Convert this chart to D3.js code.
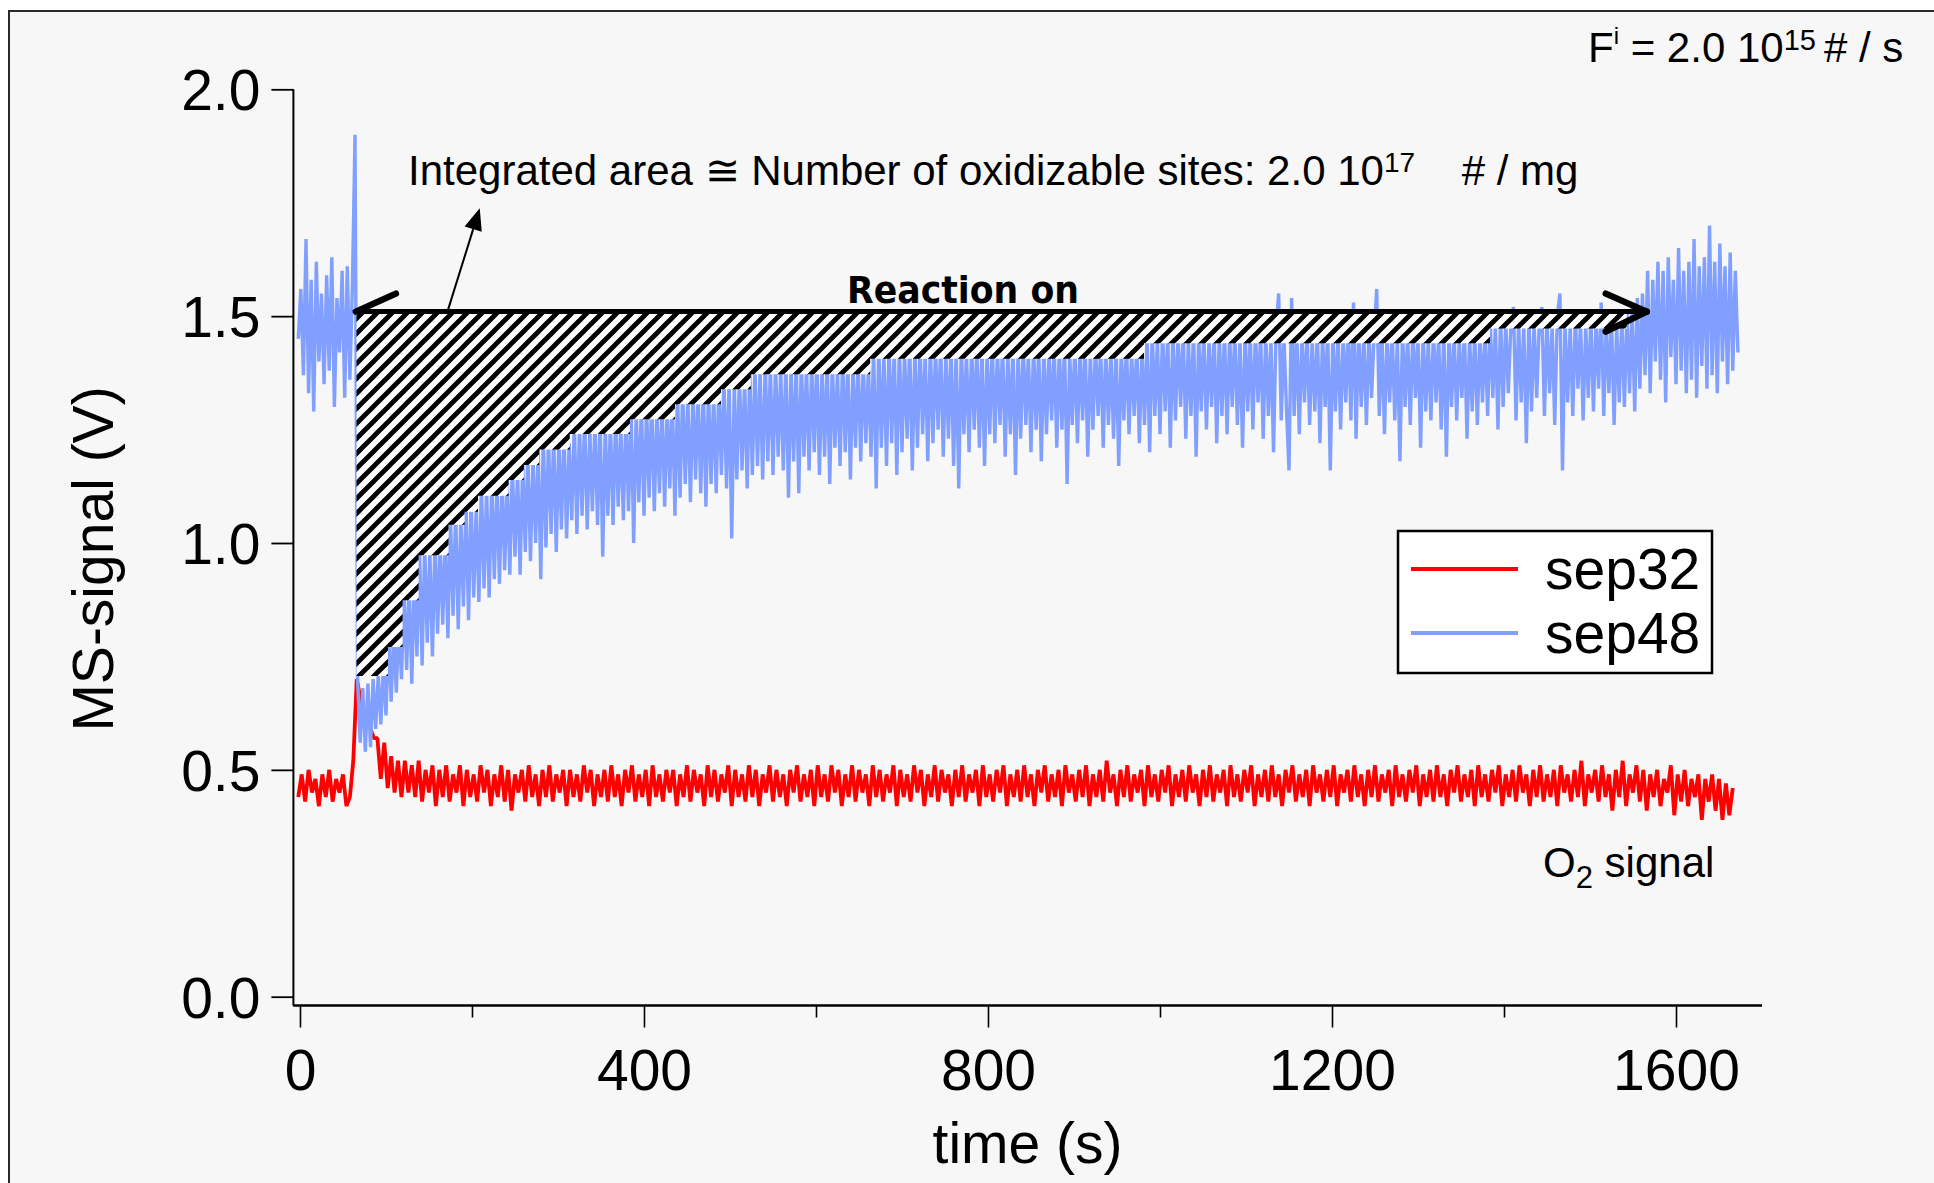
<!DOCTYPE html>
<html>
<head>
<meta charset="utf-8">
<script src="https://cdn.jsdelivr.net/npm/d3@7"></script>
<style>
  html, body { margin: 0; padding: 0; background: #ffffff; }
  svg { display: block; }
  text { font-family: "Liberation Sans", Arial, Helvetica, sans-serif; fill: #000; }
</style>
</head>
<body>
<svg id="chart" width="1934" height="1183"></svg>
<script>
// ---- sep48 trace (V), one reading every 3 s starting at t = -2 s ----
const sep48Start = -2;
const sep48Step = 3;
const sep48 = [
  1.45,1.56,1.37,1.67,1.33,1.58,1.29,1.62,1.40,1.55,1.35,1.59,1.38,1.63,1.30,1.54,1.42,1.60,1.32,1.61,
  1.36,1.57,1.90,0.70,0.56,0.68,0.54,0.69,0.55,0.70,0.59,0.71,0.60,0.73,0.62,0.80,0.65,0.81,0.67,0.83,
  0.70,0.90,0.72,0.91,0.69,0.93,0.75,0.99,0.73,1.00,0.78,0.98,0.75,1.01,0.80,1.00,0.82,1.02,0.79,1.06,
  0.84,1.07,0.81,1.06,0.86,1.09,0.83,1.10,0.88,1.08,0.87,1.13,0.90,1.12,0.88,1.14,0.92,1.13,0.91,1.15,
  0.94,1.14,0.93,1.17,0.97,1.16,0.93,1.18,0.98,1.20,0.96,1.19,1.00,1.21,0.92,1.24,0.99,1.23,1.02,1.24,
  0.98,1.23,1.03,1.25,1.01,1.22,1.05,1.27,1.02,1.26,1.06,1.28,1.03,1.25,1.07,1.27,1.04,1.28,0.97,1.26,
  1.06,1.27,1.04,1.28,1.08,1.26,1.05,1.29,1.07,1.30,1.00,1.29,1.09,1.31,1.06,1.30,1.10,1.32,1.07,1.29,
  1.11,1.31,1.08,1.30,1.12,1.32,1.06,1.33,1.10,1.34,1.13,1.32,1.09,1.34,1.14,1.33,1.11,1.35,1.08,1.34,
  1.13,1.33,1.11,1.35,1.15,1.36,1.12,1.36,1.01,1.35,1.14,1.37,1.16,1.36,1.12,1.38,1.15,1.39,1.17,1.38,
  1.14,1.40,1.18,1.39,1.15,1.40,1.19,1.38,1.16,1.41,1.10,1.39,1.18,1.40,1.11,1.41,1.19,1.39,1.16,1.40,
  1.20,1.41,1.15,1.39,1.19,1.41,1.13,1.40,1.21,1.38,1.17,1.41,1.20,1.40,1.14,1.39,1.21,1.41,1.18,1.40,
  1.22,1.39,1.19,1.43,1.12,1.44,1.21,1.42,1.17,1.44,1.22,1.43,1.15,1.44,1.20,1.42,1.23,1.44,1.16,1.43,
  1.21,1.44,1.24,1.42,1.18,1.44,1.22,1.43,1.25,1.44,1.19,1.42,1.23,1.44,1.17,1.43,1.12,1.44,1.24,1.42,
  1.20,1.44,1.25,1.43,1.21,1.44,1.17,1.42,1.24,1.44,1.22,1.43,1.26,1.44,1.19,1.42,1.24,1.44,1.15,1.43,
  1.23,1.44,1.26,1.42,1.20,1.44,1.25,1.43,1.18,1.44,1.24,1.42,1.27,1.44,1.21,1.43,1.25,1.44,1.13,1.42,
  1.26,1.44,1.22,1.43,1.27,1.44,1.19,1.42,1.25,1.44,1.28,1.43,1.21,1.44,1.26,1.42,1.23,1.44,1.17,1.43,
  1.27,1.44,1.24,1.42,1.28,1.44,1.22,1.43,1.26,1.46,1.20,1.47,1.28,1.45,1.24,1.47,1.29,1.46,1.21,1.47,
  1.27,1.46,1.30,1.47,1.23,1.45,1.28,1.47,1.19,1.46,1.29,1.47,1.25,1.45,1.30,1.47,1.22,1.46,1.28,1.47,
  1.24,1.46,1.30,1.47,1.26,1.45,1.21,1.47,1.29,1.46,1.25,1.47,1.31,1.46,1.23,1.47,1.28,1.45,1.20,1.47,
  1.55,1.27,1.46,1.30,1.16,1.54,1.28,1.47,1.24,1.46,1.31,1.47,1.26,1.45,1.29,1.47,1.22,1.46,1.30,1.47,
  1.16,1.46,1.29,1.47,1.25,1.46,1.31,1.47,1.27,1.53,1.23,1.47,1.30,1.46,1.26,1.47,1.32,1.46,1.56,1.28,
  1.47,1.24,1.46,1.31,1.47,1.27,1.45,1.18,1.47,1.30,1.46,1.26,1.47,1.32,1.46,1.21,1.47,1.29,1.45,1.27,
  1.47,1.31,1.46,1.25,1.47,1.19,1.46,1.30,1.47,1.27,1.45,1.32,1.47,1.23,1.46,1.29,1.47,1.26,1.46,1.31,
  1.47,1.28,1.49,1.32,1.48,1.25,1.50,1.30,1.49,1.33,1.48,1.52,1.27,1.49,1.31,1.48,1.22,1.50,1.29,1.49,
  1.32,1.48,1.52,1.28,1.49,1.33,1.48,1.26,1.50,1.55,1.16,1.49,1.31,1.48,1.28,1.50,1.34,1.49,1.27,1.48,
  1.32,1.50,1.29,1.49,1.34,1.53,1.28,1.49,1.33,1.50,1.26,1.48,1.31,1.50,1.30,1.51,1.33,1.52,1.29,1.54,
  1.34,1.55,1.37,1.60,1.33,1.58,1.40,1.62,1.36,1.60,1.31,1.63,1.41,1.58,1.35,1.65,1.38,1.60,1.33,1.62,
  1.36,1.67,1.32,1.61,1.39,1.63,1.34,1.70,1.37,1.62,1.33,1.66,1.40,1.61,1.35,1.64,1.38,1.60,1.42
];

// ---- sep32 trace (V), one reading every 4 s starting at t = -2 s ----
const sep32Start = -2;
const sep32Step = 4;
const sep32 = [
  0.44,0.49,0.43,0.50,0.45,0.48,0.42,0.49,0.44,0.50,0.43,0.48,0.45,0.49,0.42,0.44,0.52,
  0.70,0.66,0.63,0.61,0.59,0.57,0.57,0.48,0.56,0.46,0.53,0.45,0.52,0.44,0.52,
  0.45,0.51,0.44,0.52,0.43,0.50,0.45,0.51,0.42,0.50,0.44,0.51,0.43,0.49,0.45,0.51,0.42,0.50,0.44,0.49,
  0.43,0.51,0.45,0.50,0.42,0.49,0.44,0.51,0.43,0.50,0.41,0.49,0.45,0.50,0.43,0.51,0.44,0.49,0.42,0.50,
  0.44,0.51,0.43,0.49,0.45,0.50,0.42,0.50,0.44,0.49,0.43,0.51,0.45,0.50,0.42,0.49,0.44,0.50,0.43,0.51,
  0.44,0.49,0.42,0.50,0.45,0.51,0.43,0.49,0.44,0.50,0.42,0.51,0.44,0.49,0.43,0.50,0.45,0.50,0.42,0.49,
  0.44,0.51,0.43,0.50,0.45,0.49,0.42,0.51,0.44,0.50,0.43,0.49,0.45,0.51,0.42,0.50,0.44,0.49,0.43,0.51,
  0.44,0.50,0.42,0.49,0.45,0.51,0.43,0.50,0.44,0.49,0.42,0.50,0.45,0.51,0.43,0.49,0.44,0.50,0.42,0.51,
  0.44,0.49,0.43,0.51,0.45,0.50,0.42,0.49,0.44,0.51,0.43,0.50,0.45,0.49,0.42,0.51,0.44,0.50,0.43,0.49,
  0.45,0.51,0.42,0.50,0.44,0.49,0.43,0.51,0.45,0.50,0.42,0.49,0.44,0.51,0.43,0.50,0.45,0.49,0.42,0.50,
  0.44,0.51,0.43,0.49,0.45,0.50,0.42,0.51,0.44,0.49,0.43,0.50,0.45,0.51,0.42,0.49,0.44,0.50,0.43,0.51,
  0.44,0.49,0.42,0.50,0.45,0.51,0.43,0.49,0.44,0.50,0.42,0.51,0.45,0.49,0.43,0.50,0.44,0.51,0.42,0.49,
  0.44,0.50,0.43,0.52,0.45,0.49,0.42,0.50,0.44,0.51,0.43,0.49,0.45,0.50,0.42,0.51,0.44,0.49,0.43,0.50,
  0.45,0.51,0.42,0.49,0.44,0.50,0.43,0.51,0.45,0.49,0.42,0.50,0.44,0.51,0.43,0.49,0.45,0.50,0.42,0.51,
  0.44,0.49,0.43,0.50,0.45,0.51,0.42,0.49,0.44,0.50,0.43,0.51,0.44,0.49,0.42,0.50,0.45,0.51,0.43,0.49,
  0.44,0.50,0.42,0.51,0.45,0.49,0.43,0.50,0.44,0.51,0.42,0.49,0.45,0.50,0.43,0.51,0.44,0.49,0.42,0.50,
  0.44,0.51,0.43,0.49,0.45,0.50,0.42,0.51,0.44,0.49,0.43,0.50,0.45,0.51,0.42,0.49,0.44,0.50,0.43,0.51,
  0.44,0.49,0.42,0.50,0.45,0.51,0.43,0.49,0.44,0.50,0.42,0.51,0.44,0.49,0.43,0.50,0.45,0.51,0.42,0.49,
  0.44,0.50,0.43,0.51,0.45,0.49,0.42,0.50,0.44,0.51,0.43,0.49,0.44,0.50,0.42,0.51,0.45,0.49,0.43,0.50,
  0.44,0.52,0.42,0.49,0.45,0.50,0.43,0.51,0.44,0.49,0.41,0.50,0.44,0.52,0.42,0.49,0.45,0.51,0.43,0.50,
  0.41,0.49,0.44,0.50,0.42,0.48,0.45,0.51,0.40,0.49,0.43,0.50,0.42,0.48,0.44,0.49,0.39,0.48,0.43,0.49,
  0.41,0.48,0.39,0.47,0.40,0.46
];

// ---- staircase estimate of the integrated (consumed) area ----
const hatchTimes  = [65.8, 102.3, 119.3, 137.9, 172.7, 191.4, 207, 242.5, 260.3, 278.1, 313.7, 383.6, 436, 489.5, 524.2, 663, 981.4, 1383.7, 1542.7];
const hatchLevels = [0.707, 0.771, 0.874, 0.973, 1.040, 1.069, 1.104, 1.139, 1.172, 1.206, 1.240, 1.273, 1.306, 1.339, 1.372, 1.406, 1.440, 1.473];

// "Reaction on" span and baseline level
const reactionLevel = 1.51;
const reactionStart = 65;
const reactionEnd = 1566;
// pointer from the hatched area to its caption
const pointerFrom = [171.5, 1.51];
const pointerTo = [209, 1.738];

// axes
const xTicks = [0, 400, 800, 1200, 1600];
const xMinorTicks = [200, 600, 1000, 1400];
const yTicks = [0.0, 0.5, 1.0, 1.5, 2.0];

const seriesNames = ["sep32", "sep48"];
const seriesColors = ["#ff0000", "#809fff"];

// ------------------------------------------------------------------
const svg = d3.select("#chart");
const W = 1934, H = 1183;

svg.append("rect").attr("width", W).attr("height", H).attr("fill", "#ffffff");
svg.append("rect").attr("x", 9).attr("y", 11).attr("width", W).attr("height", H)
  .attr("fill", "#f7f7f7").attr("stroke", "#2a2a2a").attr("stroke-width", 2);

const x = d3.scaleLinear().domain([-8, 1700]).range([293.1, 1762]);
const y = d3.scaleLinear().domain([0, 2]).range([996.7, 89.3]);
const xAxisY = 1005.5;
const yAxisX = 293.4;

// hatch pattern
const defs = svg.append("defs");
const pat = defs.append("pattern").attr("id", "hatch")
  .attr("patternUnits", "userSpaceOnUse").attr("width", 15).attr("height", 15);
pat.append("rect").attr("width", 15).attr("height", 15).attr("fill", "#ffffff");
pat.append("path")
  .attr("d", "M-3.75,3.75 L3.75,-3.75 M0,15 L15,0 M11.25,18.75 L18.75,11.25")
  .attr("stroke", "#000").attr("stroke-width", 4.8);

// ---- traces ----
function trace(values, start, step) {
  return d3.line()
    .x((d, i) => x(start + i * step))
    .y(d => y(d))(values);
}
svg.append("path").attr("d", trace(sep32, sep32Start, sep32Step))
  .attr("fill", "none").attr("stroke", seriesColors[0]).attr("stroke-width", 3.8)
  .attr("stroke-linejoin", "bevel");
svg.append("path").attr("d", trace(sep48, sep48Start, sep48Step))
  .attr("fill", "none").attr("stroke", seriesColors[1]).attr("stroke-width", 3.4)
  .attr("stroke-linejoin", "bevel");

// ---- hatched area ----
const hatchPts = hatchTimes.map((t, i) => ({ t, v: hatchLevels[Math.min(i, hatchLevels.length - 1)] }));
svg.append("path")
  .attr("d", d3.area().curve(d3.curveStepAfter)
    .x(d => x(d.t)).y0(y(reactionLevel)).y1(d => y(d.v))(hatchPts))
  .attr("fill", "url(#hatch)");

// ---- "Reaction on" double arrow ----
const ay = y(reactionLevel), ax0 = x(reactionStart), ax1 = x(reactionEnd);
const arrowG = svg.append("g").attr("stroke", "#000").attr("stroke-linecap", "round").attr("fill", "none");
arrowG.append("line").attr("x1", ax0).attr("y1", ay).attr("x2", ax1).attr("y2", ay).attr("stroke-width", 5).attr("stroke-linecap", "butt");
arrowG.append("line").attr("x1", ax0).attr("y1", ay).attr("x2", ax0 + 40).attr("y2", ay - 18).attr("stroke-width", 6.5);
arrowG.append("line").attr("x1", ax1).attr("y1", ay).attr("x2", ax1 - 41).attr("y2", ay - 18).attr("stroke-width", 6.5);
arrowG.append("line").attr("x1", ax1).attr("y1", ay).attr("x2", ax1 - 41).attr("y2", ay + 20).attr("stroke-width", 6.5);

svg.append("text").attr("x", 847).attr("y", 303)
  .style("font-family", "'DejaVu Sans', Verdana, sans-serif").style("font-weight", "bold")
  .attr("font-size", 38).attr("textLength", 232).attr("lengthAdjust", "spacingAndGlyphs")
  .text("Reaction on");

// ---- pointer to the caption ----
{
  const px0 = x(pointerFrom[0]), py0 = y(pointerFrom[1]);
  const px1 = x(pointerTo[0]), py1 = y(pointerTo[1]);
  const dx = px1 - px0, dy = py1 - py0, len = Math.hypot(dx, dy);
  const ux = dx / len, uy = dy / len;
  const hl = 22, hw = 9;
  const bx = px1 - ux * hl, by = py1 - uy * hl;
  svg.append("line").attr("x1", px0).attr("y1", py0).attr("x2", bx).attr("y2", by)
    .attr("stroke", "#000").attr("stroke-width", 2);
  svg.append("path")
    .attr("d", `M${px1},${py1} L${bx - uy * hw},${by + ux * hw} L${bx + uy * hw},${by - ux * hw} Z`)
    .attr("fill", "#000");
}

// ---- axes ----
const gy = svg.append("g").attr("transform", `translate(${yAxisX},0)`)
  .call(d3.axisLeft(y).tickValues(yTicks).tickSize(22).tickPadding(11).tickFormat(d3.format(".1f")));
gy.select(".domain").remove();
gy.selectAll(".tick line").attr("stroke", "#000").attr("stroke-width", 1.8);
gy.selectAll(".tick text").attr("font-size", 57).attr("dy", "0.36em")
  .style("font-family", "'Liberation Sans', Arial, sans-serif").attr("fill", "#000");
svg.append("line").attr("x1", yAxisX).attr("x2", yAxisX).attr("y1", y(2)).attr("y2", xAxisY)
  .attr("stroke", "#000").attr("stroke-width", 2);

const gx = svg.append("g").attr("transform", `translate(0,${xAxisY})`)
  .call(d3.axisBottom(x).tickValues(xTicks).tickSize(22).tickPadding(22).tickFormat(d3.format("d")));
gx.select(".domain").remove();
gx.selectAll(".tick line").attr("stroke", "#000").attr("stroke-width", 1.6);
gx.selectAll(".tick text").attr("font-size", 57)
  .style("font-family", "'Liberation Sans', Arial, sans-serif").attr("fill", "#000");
const gxm = svg.append("g").attr("transform", `translate(0,${xAxisY})`)
  .call(d3.axisBottom(x).tickValues(xMinorTicks).tickSize(12).tickFormat(""));
gxm.select(".domain").remove();
gxm.selectAll(".tick line").attr("stroke", "#000").attr("stroke-width", 1.6);
svg.append("line").attr("x1", x.range()[0]).attr("x2", x.range()[1]).attr("y1", xAxisY).attr("y2", xAxisY)
  .attr("stroke", "#000").attr("stroke-width", 2.6);

// axis titles
svg.append("text").attr("x", (x.range()[0] + x.range()[1]) / 2).attr("y", 1163)
  .attr("text-anchor", "middle").attr("font-size", 57).text("time (s)");
svg.append("text").attr("transform", "translate(113.3,559) rotate(-90)")
  .attr("text-anchor", "middle").attr("font-size", 57).text("MS-signal (V)");

// ---- annotations ----
{
  const t = svg.append("text").attr("x", 1588).attr("y", 61.7).attr("font-size", 42).style("white-space", "pre");
  t.append("tspan").text("F");
  t.append("tspan").attr("font-size", 24).attr("dy", -18).text("i");
  t.append("tspan").attr("font-size", 42).attr("dy", 18).text(" = 2.0 10");
  t.append("tspan").attr("font-size", 29).attr("dy", -12).text("15 ");
  t.append("tspan").attr("font-size", 42).attr("dy", 12).text("# / s");
}
{
  const t = svg.append("text").attr("x", 408).attr("y", 185).attr("font-size", 42).style("white-space", "pre");
  t.append("tspan").text("Integrated area \u2245 Number of oxidizable sites: 2.0 10");
  t.append("tspan").attr("font-size", 28).attr("dy", -13).text("17");
  t.append("tspan").attr("font-size", 42).attr("dy", 13).text("    # / mg");
}
{
  const t = svg.append("text").attr("x", 1543).attr("y", 877).attr("font-size", 42).style("white-space", "pre");
  t.append("tspan").text("O");
  t.append("tspan").attr("font-size", 31).attr("dy", 11).text("2");
  t.append("tspan").attr("font-size", 42).attr("dy", -11).text(" signal");
}

// ---- legend ----
const lg = svg.append("g").attr("transform", "translate(1398,531)");
lg.append("rect").attr("width", 314).attr("height", 142)
  .attr("fill", "#ffffff").attr("stroke", "#000").attr("stroke-width", 2.5);
seriesNames.forEach((name, i) => {
  const ly = 38 + i * 64;
  lg.append("line").attr("x1", 13).attr("x2", 120).attr("y1", ly).attr("y2", ly)
    .attr("stroke", seriesColors[i]).attr("stroke-width", 4);
  lg.append("text").attr("x", 147).attr("y", ly + 19.5).attr("font-size", 57).text(name);
});
</script>
</body>
</html>
